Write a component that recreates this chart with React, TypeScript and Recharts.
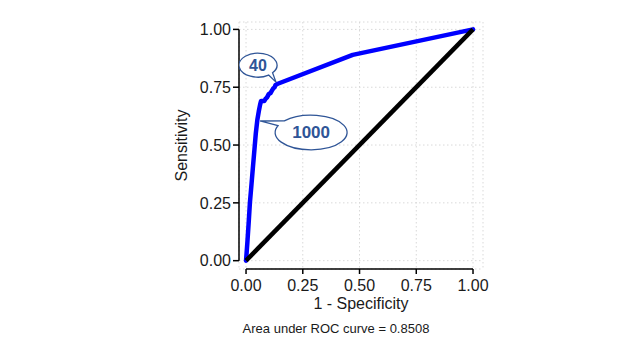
import React from 'react';
import {
  ComposedChart,
  Line,
  XAxis,
  YAxis,
  CartesianGrid,
  ReferenceLine,
  Scatter,
} from 'recharts';

// ROC curve (1 - specificity, sensitivity)
const fpr = [0, 0.006, 0.012, 0.017, 0.024, 0.03, 0.037, 0.043, 0.05, 0.056, 0.062, 0.066, 0.08, 0.086, 0.092, 0.1, 0.108, 0.114, 0.12, 0.126, 0.13, 0.14, 0.47, 1];
const tpr = [0, 0.08, 0.17, 0.25, 0.33, 0.4, 0.48, 0.55, 0.61, 0.645, 0.675, 0.69, 0.69, 0.7, 0.705, 0.72, 0.725, 0.735, 0.745, 0.75, 0.76, 0.765, 0.89, 1];

// Reference diagonal
const diagX = [0, 1];
const diagY = [0, 1];

// Threshold annotations
const annX = [0.132, 0.062];
const annY = [0.772, 0.604];
const annLabels = ['40', '1000'];

const axisTicks = [0, 0.25, 0.5, 0.75, 1];
const xDomain = [-0.031, 1.044];
const yDomain = [-0.036, 1.032];

const xTitle = '1 - Specificity';
const yTitle = 'Sensitivity';
const caption = 'Area under ROC curve = 0.8508';

const rocData = fpr.map((x, i) => ({ x, y: tpr[i] }));
const diagData = diagX.map((x, i) => ({ x, y: diagY[i] }));
const annData = annX.map((x, i) => ({ x, y: annY[i], label: annLabels[i] }));

const FONT = '"Liberation Sans", Arial, sans-serif';
const BUBBLE_COLOR = '#2F5597';

const BUBBLE_GEOM: Record<string, { dx: number; dy: number; rx: number; ry: number; a0: number; a1: number; fs: number }> = {
  '40': { dx: -18, dy: -17, rx: 19, ry: 12, a0: 40, a1: 56, fs: 16 },
  '1000': { dx: 51, dy: 11.5, rx: 36, ry: 17.3, a0: 203, a1: 222, fs: 17 },
};

function Bubble(props: any) {
  const { cx, cy, payload } = props;
  if (cx == null || cy == null || !payload) return null;
  const g = BUBBLE_GEOM[payload.label];
  const ex = cx + g.dx;
  const ey = cy + g.dy;
  const pt = (deg: number) => {
    const t = (deg * Math.PI) / 180;
    return [ex + g.rx * Math.cos(t), ey + g.ry * Math.sin(t)];
  };
  const [ax, ay] = pt(g.a0);
  const [bx, by] = pt(g.a1);
  const d = `M${bx},${by} L${cx},${cy} L${ax},${ay} A${g.rx},${g.ry} 0 1 0 ${bx},${by} Z`;
  return (
    <g>
      <path d={d} fill="#ffffff" stroke={BUBBLE_COLOR} strokeWidth={1.3} />
      <text
        x={ex}
        y={ey}
        textAnchor="middle"
        dominantBaseline="central"
        fontFamily={FONT}
        fontWeight="bold"
        fontSize={g.fs}
        fill={BUBBLE_COLOR}
      >
        {payload.label}
      </text>
    </g>
  );
}

const renderYTitle = (props: any) => {
  const vb = props.viewBox || {};
  const x = vb.x + 12;
  const y = vb.y + vb.height / 2;
  return (
    <text
      x={x}
      y={y}
      transform={`rotate(-90 ${x} ${y})`}
      textAnchor="middle"
      dominantBaseline="central"
      fontFamily={FONT}
      fontSize={16}
      fill="#1a1a1a"
    >
      {yTitle}
    </text>
  );
};

const renderXTitle = (props: any) => {
  const vb = props.viewBox || {};
  const cx = vb.x + vb.width / 2;
  return (
    <g>
      <text x={cx} y={vb.y + 40} textAnchor="middle" fontFamily={FONT} fontSize={16} fill="#1a1a1a">
        {xTitle}
      </text>
      <text x={cx - 25} y={vb.y + 64} textAnchor="middle" fontFamily={FONT} fontSize={13} fill="#1a1a1a">
        {caption}
      </text>
    </g>
  );
};

const tickStyle = { fontSize: 16, fill: '#1a1a1a', fontFamily: FONT };

export default function App() {
  return (
    <div style={{ position: 'absolute', left: 0, top: 0, width: 618, height: 350, background: '#ffffff' }}>
      <ComposedChart width={618} height={350} margin={{ top: 22, right: 135, left: 169, bottom: 41 }}>
        <CartesianGrid stroke="#d9d9d9" strokeDasharray="1.5 2.5" strokeWidth={1} />
        <XAxis
          type="number"
          dataKey="x"
          domain={xDomain}
          allowDataOverflow
          ticks={axisTicks}
          interval={0}
          tickFormatter={(v: number) => v.toFixed(2)}
          axisLine={false}
          tickLine={{ stroke: '#000', strokeWidth: 1.5 }}
          tickSize={5}
          tickMargin={6}
          height={40}
          tick={tickStyle}
          label={renderXTitle}
        />
        <YAxis
          type="number"
          domain={yDomain}
          allowDataOverflow
          ticks={axisTicks}
          interval={0}
          tickFormatter={(v: number) => v.toFixed(2)}
          axisLine={false}
          tickLine={{ stroke: '#000', strokeWidth: 1.5 }}
          tickSize={6}
          tickMargin={2}
          width={70}
          tick={tickStyle}
          label={renderYTitle}
        />
        <Line
          data={rocData}
          dataKey="y"
          type="linear"
          stroke="#0000FF"
          strokeWidth={4.5}
          strokeLinejoin="round"
          strokeLinecap="round"
          dot={false}
          activeDot={false}
          isAnimationActive={false}
        />
        <Line
          data={diagData}
          dataKey="y"
          type="linear"
          stroke="#000000"
          strokeWidth={4.5}
          dot={false}
          activeDot={false}
          isAnimationActive={false}
        />
        <ReferenceLine
          segment={[{ x: xDomain[0], y: 0 }, { x: xDomain[0], y: 1 }]}
          stroke="#000"
          strokeWidth={1.5}
          ifOverflow="visible"
        />
        <ReferenceLine
          segment={[{ x: 0, y: yDomain[0] }, { x: 1, y: yDomain[0] }]}
          stroke="#000"
          strokeWidth={1.5}
          ifOverflow="visible"
        />
        <Scatter data={annData} dataKey="y" shape={Bubble} isAnimationActive={false} />
      </ComposedChart>
    </div>
  );
}
